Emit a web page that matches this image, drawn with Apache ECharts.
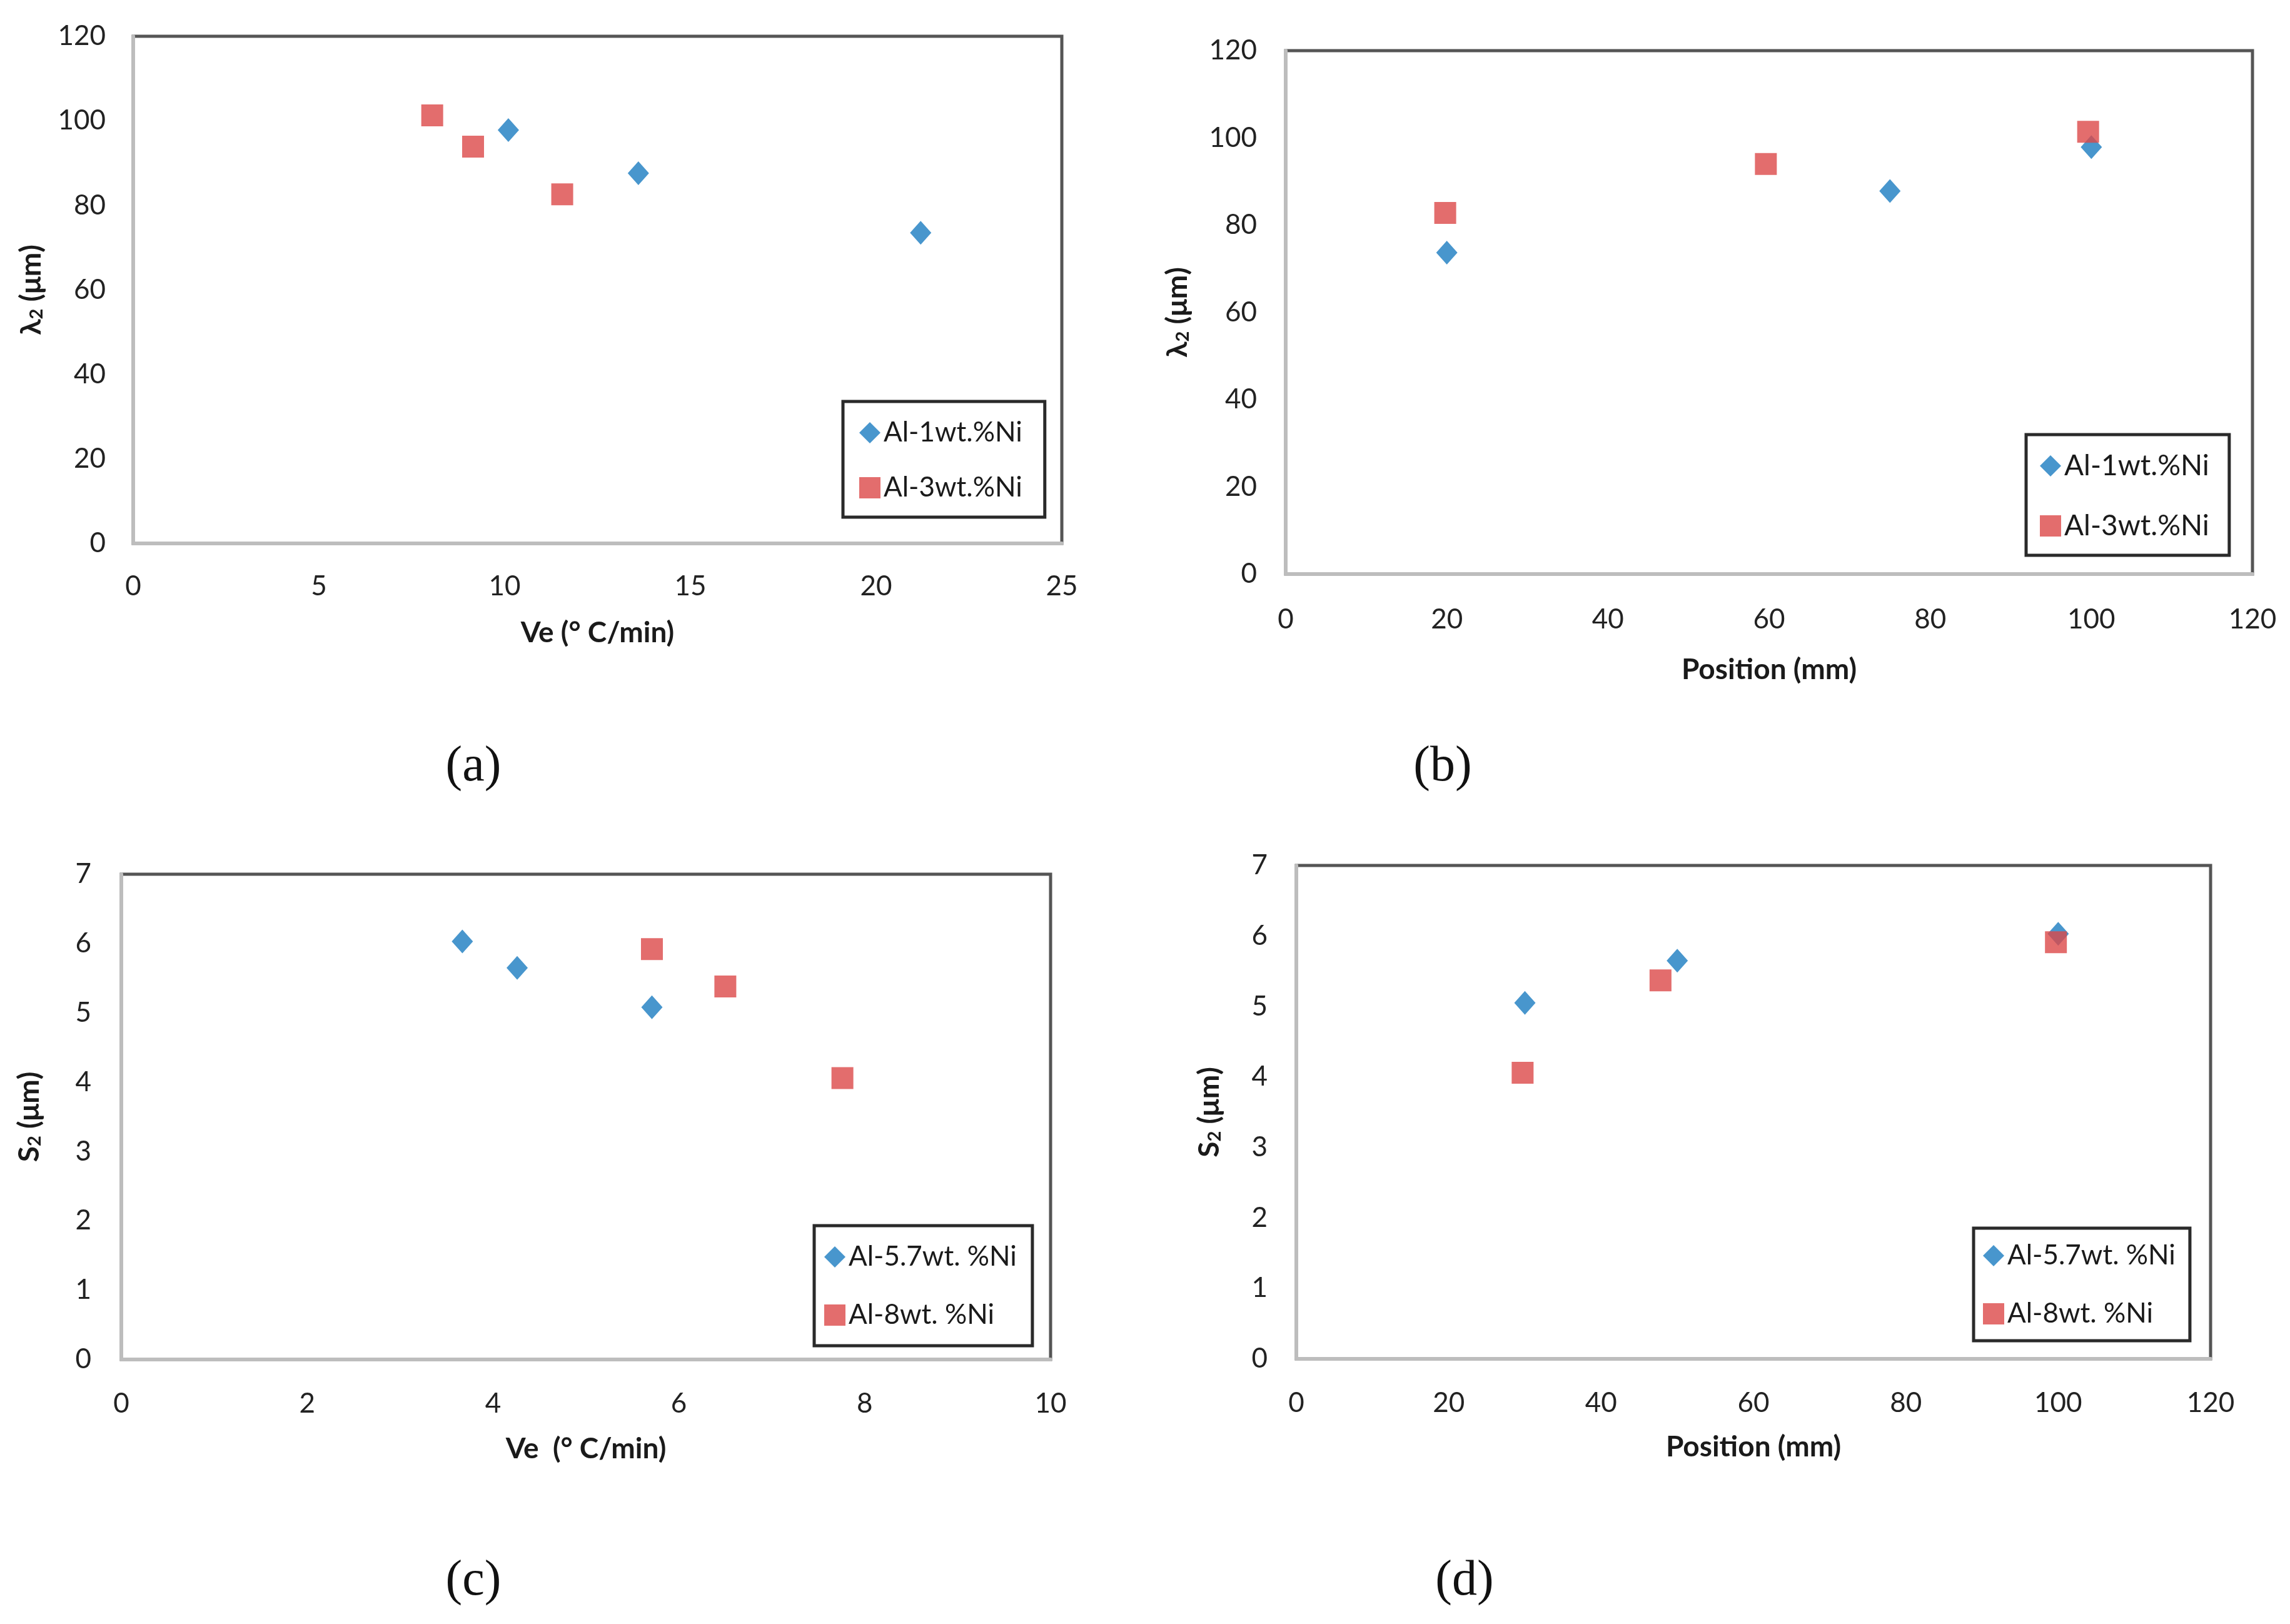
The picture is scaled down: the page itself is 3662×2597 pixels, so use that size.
<!DOCTYPE html>
<html><head><meta charset="utf-8">
<script src="https://cdn.jsdelivr.net/npm/echarts@6/dist/echarts.min.js"></script>
<style>html,body{margin:0;padding:0;background:#fff}#c{width:3662px;height:2597px}</style>
</head><body><div id="c"></div>
<script>
// Panel (a): lambda2 vs Ve
const aNames = ['Al-1wt.%Ni', 'Al-3wt.%Ni'];
const aBlueX = [10.1, 13.6, 21.2];
const aBlueY = [97.8, 87.6, 73.5];
const aRedX = [8.05, 9.15, 11.55];
const aRedY = [101.3, 93.9, 82.6];
// Panel (b): lambda2 vs Position
const bBlueX = [20, 75, 100];
const bBlueY = [73.7, 87.8, 97.9];
const bRedX = [19.8, 59.6, 99.6];
const bRedY = [82.8, 94.0, 101.4];
// Panel (c): S2 vs Ve
const cNames = ['Al-5.7wt. %Ni', 'Al-8wt. %Ni'];
const cBlueX = [3.67, 4.26, 5.71];
const cBlueY = [6.03, 5.65, 5.08];
const cRedX = [5.71, 6.5, 7.76];
const cRedY = [5.92, 5.38, 4.06];
// Panel (d): S2 vs Position
const dBlueX = [30, 50, 100];
const dBlueY = [5.05, 5.65, 6.03];
const dRedX = [29.7, 47.8, 99.7];
const dRedY = [4.06, 5.37, 5.91];

const panelLabels = ['(a)', '(b)', '(c)', '(d)'];
const xNames = ['Ve (° C/min)', 'Position (mm)', 'Ve  (° C/min)', 'Position (mm)'];
const yNames = ['λ{sub|2} (μm)', 'λ{sub|2} (μm)', 'S{sub|2} (μm)', 'S{sub|2} (μm)'];
const xMax = [25, 120, 10, 120];
const xInt = [5, 20, 2, 20];
const yMax = [120, 120, 7, 7];
const yInt = [20, 20, 1, 1];

const BLUE = '#1a7cc1';
const RED = '#dc4848';
const FONT = 'Lato';

const grids = [
  {left: 213, top: 58, width: 1485, height: 811},
  {left: 2056, top: 81, width: 1546, height: 837},
  {left: 194, top: 1398, width: 1486, height: 776},
  {left: 2073, top: 1384, width: 1462, height: 789}
];
const xLabelMargin = [47, 51, 49, 49];
const xNameGap = [120, 130, 120, 118];
const yLabelMargin = [44, 46, 48, 46];
const yNameGap = [140, 150, 124, 116];

const zip = (xs, ys) => xs.map((x, i) => [x, ys[i]]);

const xAxis = grids.map((g, i) => ({
  type: 'value', gridIndex: i, min: 0, max: xMax[i], interval: xInt[i],
  name: xNames[i], nameLocation: 'middle', nameGap: xNameGap[i],
  nameTextStyle: {fontFamily: FONT, fontWeight: 'bold', fontSize: 46, color: '#1a1a1a'},
  axisLine: {show: true, onZero: false, lineStyle: {color: '#bdbdbd', width: 6}},
  axisTick: {show: false}, splitLine: {show: false},
  axisLabel: {fontFamily: FONT, fontSize: 44, color: '#222', margin: xLabelMargin[i]}
}));
const yAxis = grids.map((g, i) => ({
  type: 'value', gridIndex: i, min: 0, max: yMax[i], interval: yInt[i],
  name: yNames[i], nameLocation: 'middle', nameGap: yNameGap[i], nameRotate: 90,
  nameTextStyle: {fontFamily: FONT, fontWeight: 'bold', fontSize: 46, color: '#1a1a1a',
    rich: {sub: {fontFamily: FONT, fontWeight: 'bold', fontSize: 29, color: '#1a1a1a', verticalAlign: 'bottom', padding: [16, 0, 0, 0]}}},
  axisLine: {show: true, onZero: false, lineStyle: {color: '#bdbdbd', width: 6}},
  axisTick: {show: false}, splitLine: {show: false},
  axisLabel: {fontFamily: FONT, fontSize: 44, color: '#222', margin: yLabelMargin[i]}
}));

function blue(name, i, xs, ys) {
  return {type: 'scatter', name: name, xAxisIndex: i, yAxisIndex: i, data: zip(xs, ys),
    symbol: 'diamond', symbolSize: [34, 38], itemStyle: {color: BLUE}};
}
function red(name, i, xs, ys) {
  return {type: 'scatter', name: name, xAxisIndex: i, yAxisIndex: i, data: zip(xs, ys),
    symbol: 'rect', symbolSize: [35, 35], itemStyle: {color: RED}};
}

const series = [
  blue(aNames[0], 0, aBlueX, aBlueY), red(aNames[1], 0, aRedX, aRedY),
  blue(aNames[0], 1, bBlueX, bBlueY), red(aNames[1], 1, bRedX, bRedY),
  blue(cNames[0], 2, cBlueX, cBlueY), red(cNames[1], 2, cRedX, cRedY),
  blue(cNames[0], 3, dBlueX, dBlueY), red(cNames[1], 3, dRedX, dRedY)
];

const legendCfg = [
  {left: 1348, top: 642, font: 44, gap: 44, pad: [28, 36, 25, 26]},
  {left: 3240, top: 695, font: 46, gap: 50, pad: [27, 32, 24, 22]},
  {left: 1302, top: 1960, font: 44, gap: 49, pad: [28, 25, 27, 16]},
  {left: 3156, top: 1964, font: 44, gap: 49, pad: [22, 23, 21, 15]}
];
const legends = legendCfg.map((p, i) => ({
  left: p.left, top: p.top, orient: 'vertical',
  data: i < 2 ? aNames : cNames,
  backgroundColor: '#fff', borderColor: '#2a2a2a', borderWidth: 5,
  padding: p.pad, itemGap: p.gap, itemWidth: 34, itemHeight: 34,
  selectedMode: false,
  textStyle: {fontFamily: FONT, fontSize: p.font, color: '#1a1a1a'}
}));

const titlePos = [[752, 1182], [2302, 1182], [752, 2484], [2337, 2484]];
const titles = panelLabels.map((t, i) => ({
  text: t, left: titlePos[i][0], top: titlePos[i][1], textAlign: 'center',
  textStyle: {fontFamily: 'Liberation Serif', fontWeight: 'normal', fontSize: 80, color: '#111'}
}));

const chart = echarts.init(document.getElementById('c'));
chart.setOption({
  backgroundColor: '#fff',
  animation: false,
  title: titles,
  grid: grids.map(g => Object.assign({show: true, borderColor: '#555', borderWidth: 5, backgroundColor: 'transparent'}, g)),
  xAxis: xAxis,
  yAxis: yAxis,
  legend: legends,
  series: series
});
</script></body></html>
